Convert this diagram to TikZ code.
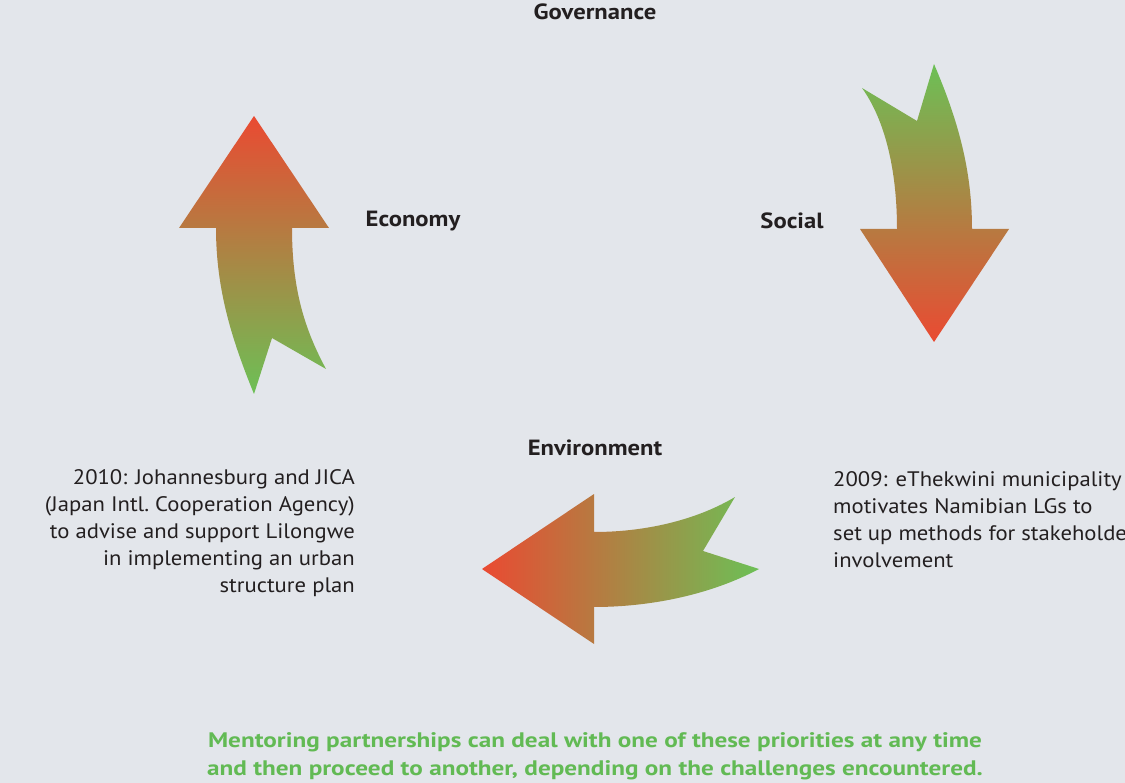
\documentclass[tikz,border=0pt]{standalone}
\usepackage{fontspec}
\setmainfont[FakeStretch=1.08]{PT Sans}
\newfontfamily\headfont[FakeStretch=1.12]{PT Sans}
\newfontfamily\notefont[FakeStretch=1.20]{PT Sans}

\definecolor{bgcol}{RGB}{227,230,235}
\definecolor{leafgreen}{RGB}{108,192,86}
\definecolor{tipred}{RGB}{234,74,50}
\definecolor{inkgray}{RGB}{35,31,32}
\definecolor{notegreen}{RGB}{98,186,84}

\tikzset{
    heading/.style={font=\headfont\fontsize{22}{25}\selectfont\bfseries, text=inkgray},
    casenote/.style={font=\fontsize{21}{27}\selectfont, text=inkgray, inner sep=0pt},
    closing/.style={font=\notefont\fontsize{21}{28}\selectfont\bfseries, text=notegreen, align=center, inner sep=0pt}
}

\begin{document}
\begin{tikzpicture}[x=1pt, y=-1pt]
    \fill[bgcol] (0, 0) rectangle (1125, 783);
    \useasboundingbox (0, 0) rectangle (1125, 783);

    \shade[top color=tipred, bottom color=leafgreen]
        (254, 116) -- (329, 228) -- (292, 228)
        .. controls (292, 290) and (305, 330) .. (326, 369)
        -- (272, 338) -- (254, 394)
        .. controls (232, 340) and (216, 290) .. (216, 228)
        -- (179, 228) -- cycle;
    \shade[top color=leafgreen, bottom color=tipred]
        (934, 342) -- (860, 229) -- (897, 229)
        .. controls (897, 170) and (885, 120) .. (862, 88)
        -- (917, 121) -- (934, 64)
        .. controls (958, 120) and (972, 170) .. (972, 229)
        -- (1009, 229) -- cycle;
    \shade[left color=tipred, right color=leafgreen]
        (482, 569) -- (594, 494) -- (594, 532)
        .. controls (650, 532) and (700, 518) .. (735, 497)
        -- (703, 551) -- (759, 569)
        .. controls (710, 595) and (650, 607) .. (594, 607)
        -- (594, 644) -- cycle;

    \path[heading]
        \foreach \p/\n/\t in {
            {595, 12}/gov/Governance,
            {413, 221}/eco/Economy,
            {792, 221}/soc/Social,
            {595, 448}/env/Environment
        } {
            (\p) node (\n) {\t}
        };

    \node[casenote, align=right, anchor=east] (jhb) at (355, 533)
        {2010: Johannesburg and JICA\\(Japan Intl.\ Cooperation Agency)\\to advise and support Lilongwe\\in implementing an urban\\structure plan};
    \node[casenote, align=left, anchor=west] (ethek) at (833, 520)
        {2009: eThekwini municipality\\motivates Namibian LGs to\\set up methods for stakeholder\\involvement};

    \node[closing] (note) at (595, 756)
        {Mentoring partnerships can deal with one of these priorities at any time\\and then proceed to another, depending on the challenges encountered.};
\end{tikzpicture}
\end{document}
